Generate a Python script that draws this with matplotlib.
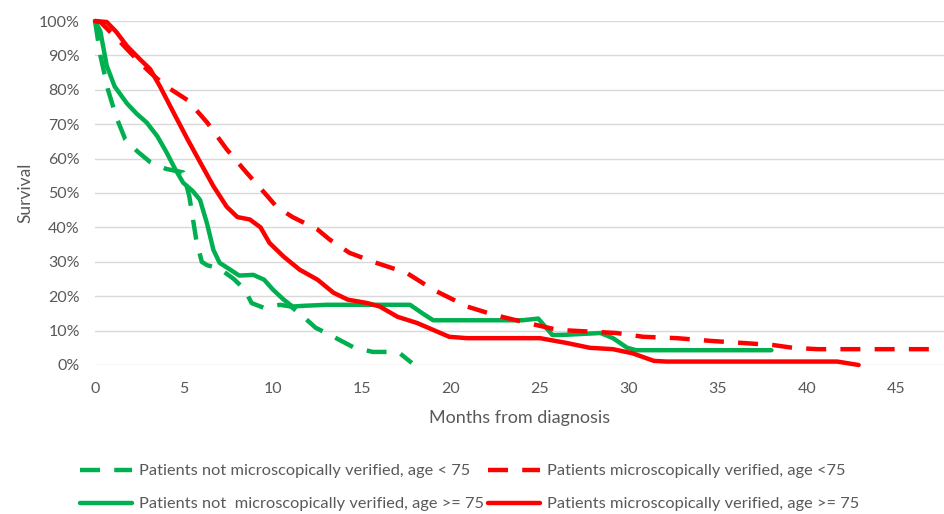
import matplotlib
matplotlib.use("Agg")
import matplotlib.pyplot as plt
from matplotlib.ticker import PercentFormatter

plt.rcParams['font.family'] = ['Lato', 'DejaVu Sans']

# months / survival (%)
nmv_young_x = [0, 0.3, 0.73, 1.2, 1.7, 2.4, 3.1, 4.0, 4.95, 5.3, 5.7, 6.0, 6.3,
               7.0, 7.8, 8.4, 8.8, 9.5, 10.4, 11.0, 11.5, 12.4, 13.0, 14.5,
               15.6, 16.4, 17.1, 17.8]
nmv_young_y = [100, 90, 80, 72, 65.6, 62, 59, 57, 56, 49, 36, 30, 29,
               28, 25, 22, 18, 16.6, 17.5, 17, 15, 10.8, 9.3, 5.2,
               3.8, 3.8, 3.5, 0.6]

nmv_old_x = [0, 0.3, 0.66, 1.1, 1.8, 2.35, 2.9, 3.5, 4.0, 4.5, 4.95, 5.5, 5.9,
             6.3, 6.65, 7.0, 7.6, 8.1, 8.9, 9.5, 10.0, 10.6, 11.1, 11.7, 13.0,
             17.0, 17.7, 18.4, 19.0, 20.0, 24.0, 24.9, 25.7, 26.5, 28.4,
             29.1, 29.9, 30.4, 38.0]
nmv_old_y = [100, 97, 87, 81, 76, 73, 70.5, 66.5, 62, 57, 53, 50.5, 48,
             41, 33.5, 29.7, 27.7, 26, 26.2, 24.8, 21.9, 19, 17, 17.2, 17.5,
             17.5, 17.5, 15, 13, 13, 13, 13.5, 8.7, 8.8, 9.3,
             7.8, 5, 4.3, 4.3]

mv_young_x = [0, 0.3, 1.4, 2.5, 3.1, 4.0, 5.2, 6.3, 7.4, 8.5, 9.7, 10.2, 11.1,
              12.5, 13.2, 14.3, 15.8, 17.5, 19.0, 20.9, 22.4, 24.3, 26.0,
              29.3, 30.8, 32.7, 34.6, 36.4, 38.1, 39.2, 40.6, 47.1]
mv_young_y = [100, 99.7, 94, 88, 85, 81, 77, 70.5, 62.7, 56, 49, 46, 43,
              39.4, 36.4, 32.6, 29.7, 26.8, 21.9, 17, 14.6, 12.2, 10.2,
              9.3, 8.2, 7.8, 7, 6.4, 5.8, 5, 4.6, 4.6]

mv_old_x = [0, 0.66, 1.2, 1.8, 2.5, 3.1, 3.65, 4.4, 5.2, 5.9, 6.65, 7.4, 8.0,
            8.7, 9.3, 9.8, 10.6, 11.5, 12.5, 13.4, 14.2, 15.3, 16.0, 17.0,
            18.1, 19.0, 19.9, 20.9, 25.0, 26.5, 27.8, 29.1, 30.2, 31.4, 32.1,
            41.7, 42.9]
mv_old_y = [100, 99.7, 96.8, 92.7, 89, 86, 81, 73.5, 65.6, 59, 52, 46, 43,
            42.3, 40, 35.5, 31.5, 27.7, 24.8, 21, 19, 18, 17, 14,
            12.2, 10.2, 8.2, 7.8, 7.8, 6.4, 5, 4.6, 3.4, 1.2, 1,
            1, 0]

labels = ['Patients not microscopically verified, age < 75',
          'Patients not  microscopically verified, age >= 75',
          'Patients microscopically verified, age <75',
          'Patients microscopically verified, age >= 75']

GREEN = '#00B050'
RED = '#FF0000'
GREY = '#595959'

fig = plt.figure(figsize=(9.45, 5.14), dpi=100)
ax = fig.add_axes([95 / 945, 149 / 514, 850 / 945, 344 / 514])

kw = dict(lw=3.2, solid_joinstyle='round', solid_capstyle='round', clip_on=False)
dash = (0, (4.5, 3.2))
l1, = ax.plot(nmv_young_x, nmv_young_y, color=GREEN, linestyle=dash, **kw)
l2, = ax.plot(nmv_old_x, nmv_old_y, color=GREEN, **kw)
l3, = ax.plot(mv_young_x, mv_young_y, color=RED, linestyle=dash, **kw)
l4, = ax.plot(mv_old_x, mv_old_y, color=RED, **kw)

ax.set_xlim(0, 850 / 17.8)
ax.set_ylim(0, 100)
ax.set_xticks(range(0, 50, 5))
ax.set_yticks(range(0, 101, 10))
ax.yaxis.set_major_formatter(PercentFormatter(decimals=0))
ax.grid(axis='y', color='#D9D9D9', lw=1)
ax.set_axisbelow(True)
for s in ax.spines.values():
    s.set_visible(False)
ax.tick_params(length=0, labelsize=11.5, labelcolor=GREY)
ax.tick_params(axis='y', pad=11)
ax.tick_params(axis='x', pad=12)

ax.set_xlabel('Months from diagnosis', fontsize=13, color=GREY, labelpad=10)
ax.set_ylabel('Survival', fontsize=12.5, color=GREY, labelpad=4)

fig.legend([l1, l2, l3, l4], labels, ncol=2, loc='upper left',
           bbox_to_anchor=(80 / 945, 1 - 464 / 514), frameon=False,
           fontsize=11.8, labelcolor=GREY, handlelength=3.15, handletextpad=0.42,
           columnspacing=0.3, borderpad=0, borderaxespad=0, labelspacing=1.12)

fig.savefig('out.png', dpi=100)
